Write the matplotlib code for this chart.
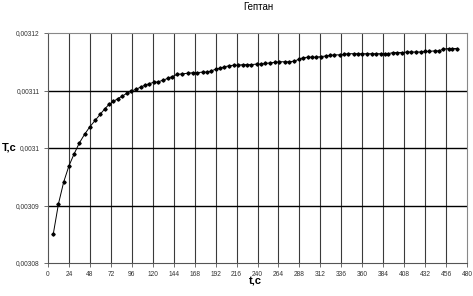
import matplotlib
matplotlib.use("Agg")
import matplotlib.pyplot as plt
from matplotlib.ticker import FixedLocator

title = "Гептан"
x_label = "t,c"
y_label = "T,c"

t_values = [6, 12, 18, 24, 30, 36, 42, 48, 54, 60, 65, 70, 75, 80, 85, 90, 95, 101,
            106, 111, 116, 121, 126, 132, 137, 142, 148, 154, 160, 166, 171, 177,
            182, 187, 192, 197, 202, 207, 213, 218, 223, 228, 233, 239, 244, 249,
            254, 260, 265, 271, 276, 282, 287, 292, 298, 302, 307, 313, 318, 323,
            328, 334, 339, 344, 350, 355, 360, 366, 371, 376, 381, 386, 390, 395,
            400, 406, 411, 416, 422, 427, 432, 437, 443, 448, 453, 459, 463, 468]

T_values = [0.0030850, 0.0030903, 0.0030941, 0.0030969, 0.0030990, 0.0031009,
            0.0031024, 0.0031037, 0.0031048, 0.0031059, 0.0031068, 0.0031076,
            0.0031081, 0.0031086, 0.0031090, 0.0031095, 0.0031099, 0.0031102,
            0.0031106, 0.0031109, 0.0031112, 0.0031114, 0.0031115, 0.0031118,
            0.0031121, 0.0031124, 0.0031128, 0.0031129, 0.0031130, 0.0031131,
            0.0031131, 0.0031132, 0.0031132, 0.0031134, 0.0031137, 0.0031139,
            0.0031141, 0.0031143, 0.0031144, 0.0031144, 0.0031145, 0.0031145,
            0.0031145, 0.0031146, 0.0031146, 0.0031147, 0.0031148, 0.0031149,
            0.0031150, 0.0031150, 0.0031150, 0.0031151, 0.0031154, 0.0031157,
            0.0031158, 0.0031158, 0.0031158, 0.0031159, 0.0031160, 0.0031161,
            0.0031162, 0.0031162, 0.0031163, 0.0031164, 0.0031164, 0.0031164,
            0.0031164, 0.0031164, 0.0031164, 0.0031164, 0.0031164, 0.0031164,
            0.0031164, 0.0031166, 0.0031166, 0.0031166, 0.0031167, 0.0031167,
            0.0031167, 0.0031167, 0.0031168, 0.0031168, 0.0031169, 0.0031169,
            0.0031172, 0.0031173, 0.0031173, 0.0031173]

x_ticks = [0, 24, 48, 72, 96, 120, 144, 168, 192, 216, 240, 264, 288, 312, 336,
           360, 384, 408, 432, 456, 480]
y_ticks = [0.00308, 0.00309, 0.0031, 0.00311, 0.00312]
y_tick_labels = ["0,00308", "0,00309", "0,0031", "0,00311", "0,00312"]

plt.rcParams['font.family'] = ['Liberation Sans', 'DejaVu Sans']

fig = plt.figure(figsize=(4.73, 2.96), dpi=100)
ax = fig.add_axes([48 / 473, 1 - 263 / 296, (467 - 48) / 473, (263 - 33) / 296])

ax.set_xlim(0, 480)
ax.set_ylim(0.00308, 0.00312)

for xt in x_ticks[1:-1]:
    ax.axvline(xt, color="#3a3a3a", lw=0.8, zorder=1)
for yt in y_ticks[1:-1]:
    ax.axhline(yt, color="black", lw=1.0, zorder=1)

ax.plot(t_values, T_values, color="black", lw=0.7, marker="D", ms=1.7,
        mfc="black", mec="black", zorder=3)

ax.xaxis.set_major_locator(FixedLocator(x_ticks))
ax.set_xticklabels([str(v) for v in x_ticks], fontsize=4.8, color="#333333")
ax.yaxis.set_major_locator(FixedLocator(y_ticks))
ax.set_yticklabels(y_tick_labels, fontsize=4.8, color="#333333")
ax.tick_params(axis="both", direction="out", length=3, width=0.6, color="#555555", pad=3)

for side in ["top", "right"]:
    ax.spines[side].set_color("#888888")
    ax.spines[side].set_linewidth(0.8)
for side in ["left", "bottom"]:
    ax.spines[side].set_color("#555555")
    ax.spines[side].set_linewidth(0.8)

fig.text(258 / 473, 1 - 7 / 296, title, fontsize=7, ha="center", va="center")
fig.text(255 / 473, 1 - 282 / 296, x_label, fontsize=8, fontweight="bold", ha="center", va="center")
fig.text(2 / 473, 1 - 147 / 296, y_label, fontsize=8, fontweight="bold", ha="left", va="center")

fig.savefig("out.png", dpi=100)
